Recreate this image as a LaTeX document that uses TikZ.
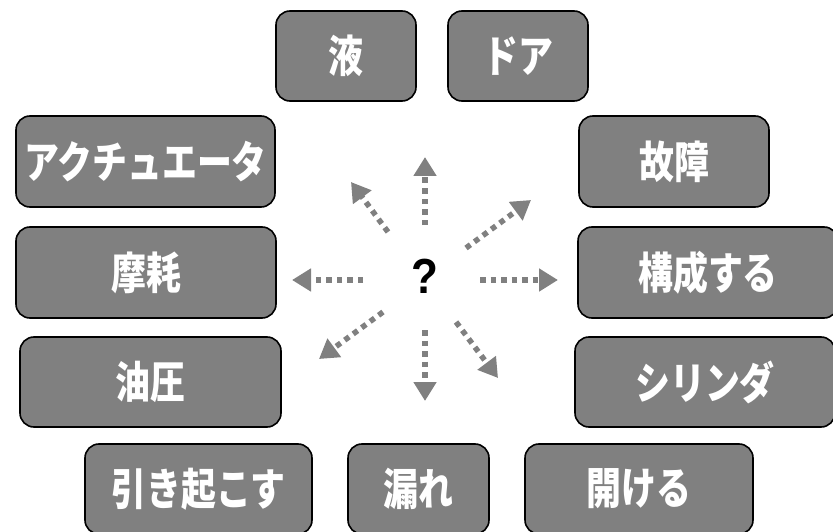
\documentclass[tikz,border=0pt]{standalone}
\usepackage{fontspec}
\usepackage{graphicx}
\usetikzlibrary{arrows.meta}
\newfontfamily\jpfont{Noto Sans CJK JP}
\setmainfont{Liberation Sans}
\definecolor{boxgray}{HTML}{808080}
\definecolor{arrgray}{HTML}{808080}
\newcommand{\tall}[1]{\scalebox{0.97}[1.22]{#1}}
\tikzset{
  box/.style={draw=black, line width=1.6pt, fill=boxgray, rounded corners=14pt,
    inner sep=0pt, text=white, minimum height=90pt,
    font=\jpfont\bfseries\fontsize{36}{40}\selectfont},
  darr/.style={draw=arrgray, line width=5.5pt, line cap=butt,
    dash pattern=on 5.5pt off 5pt,
    -{Triangle[length=19pt,width=22pt]}}
}
\begin{document}
\begin{tikzpicture}[x=1pt,y=-1pt]
\useasboundingbox (0,0) rectangle (833,532);
% boxes
\node[box, minimum width=140pt] (liq) at (346,56) {\tall{液}};
\node[box, minimum width=140pt] (door) at (518,56) {\tall{ドア}};
\node[box, minimum width=259pt, minimum height=91pt] (act) at (145.5,161.5) {\tall{アクチュエータ}};
\node[box, minimum width=190pt, minimum height=91pt] (fail) at (674,161.5) {\tall{故障}};
\node[box, minimum width=260pt, minimum height=91pt] (wear) at (146,272.5) {\tall{摩耗}};
\node[box, minimum width=260pt, minimum height=91pt] (comp) at (708,272.5) {\tall{構成する}};
\node[box, minimum width=261pt] (hyd) at (150.5,382) {\tall{油圧}};
\node[box, minimum width=260pt] (cyl) at (705,382) {\tall{シリンダ}};
\node[box, minimum width=227pt] (cause) at (198.5,489) {\tall{引き起こす}};
\node[box, minimum width=141pt] (leak) at (418.5,489) {\tall{漏れ}};
\node[box, minimum width=228pt] (open) at (639,489) {\tall{開ける}};
% centre
\node[font=\bfseries\fontsize{44}{48}\selectfont, text=black] (q) at (425,276) {\scalebox{1}[1.12]{?}};
% arrow ends
\coordinate (s1) at (425,225); \coordinate (t1) at (425,157);
\coordinate (s2) at (388,232); \coordinate (t2) at (351,182);
\coordinate (s3) at (466,248); \coordinate (t3) at (531,200);
\coordinate (s4) at (363,280); \coordinate (t4) at (292,280);
\coordinate (s5) at (480,280); \coordinate (t5) at (558,280);
\coordinate (s6) at (383,312); \coordinate (t6) at (319,359);
\coordinate (s7) at (425,330); \coordinate (t7) at (425,401);
\coordinate (s8) at (456,322); \coordinate (t8) at (498,378);
\foreach \i in {1,...,8} { \draw[darr] (s\i) -- (t\i); }
\end{tikzpicture}
\end{document}
